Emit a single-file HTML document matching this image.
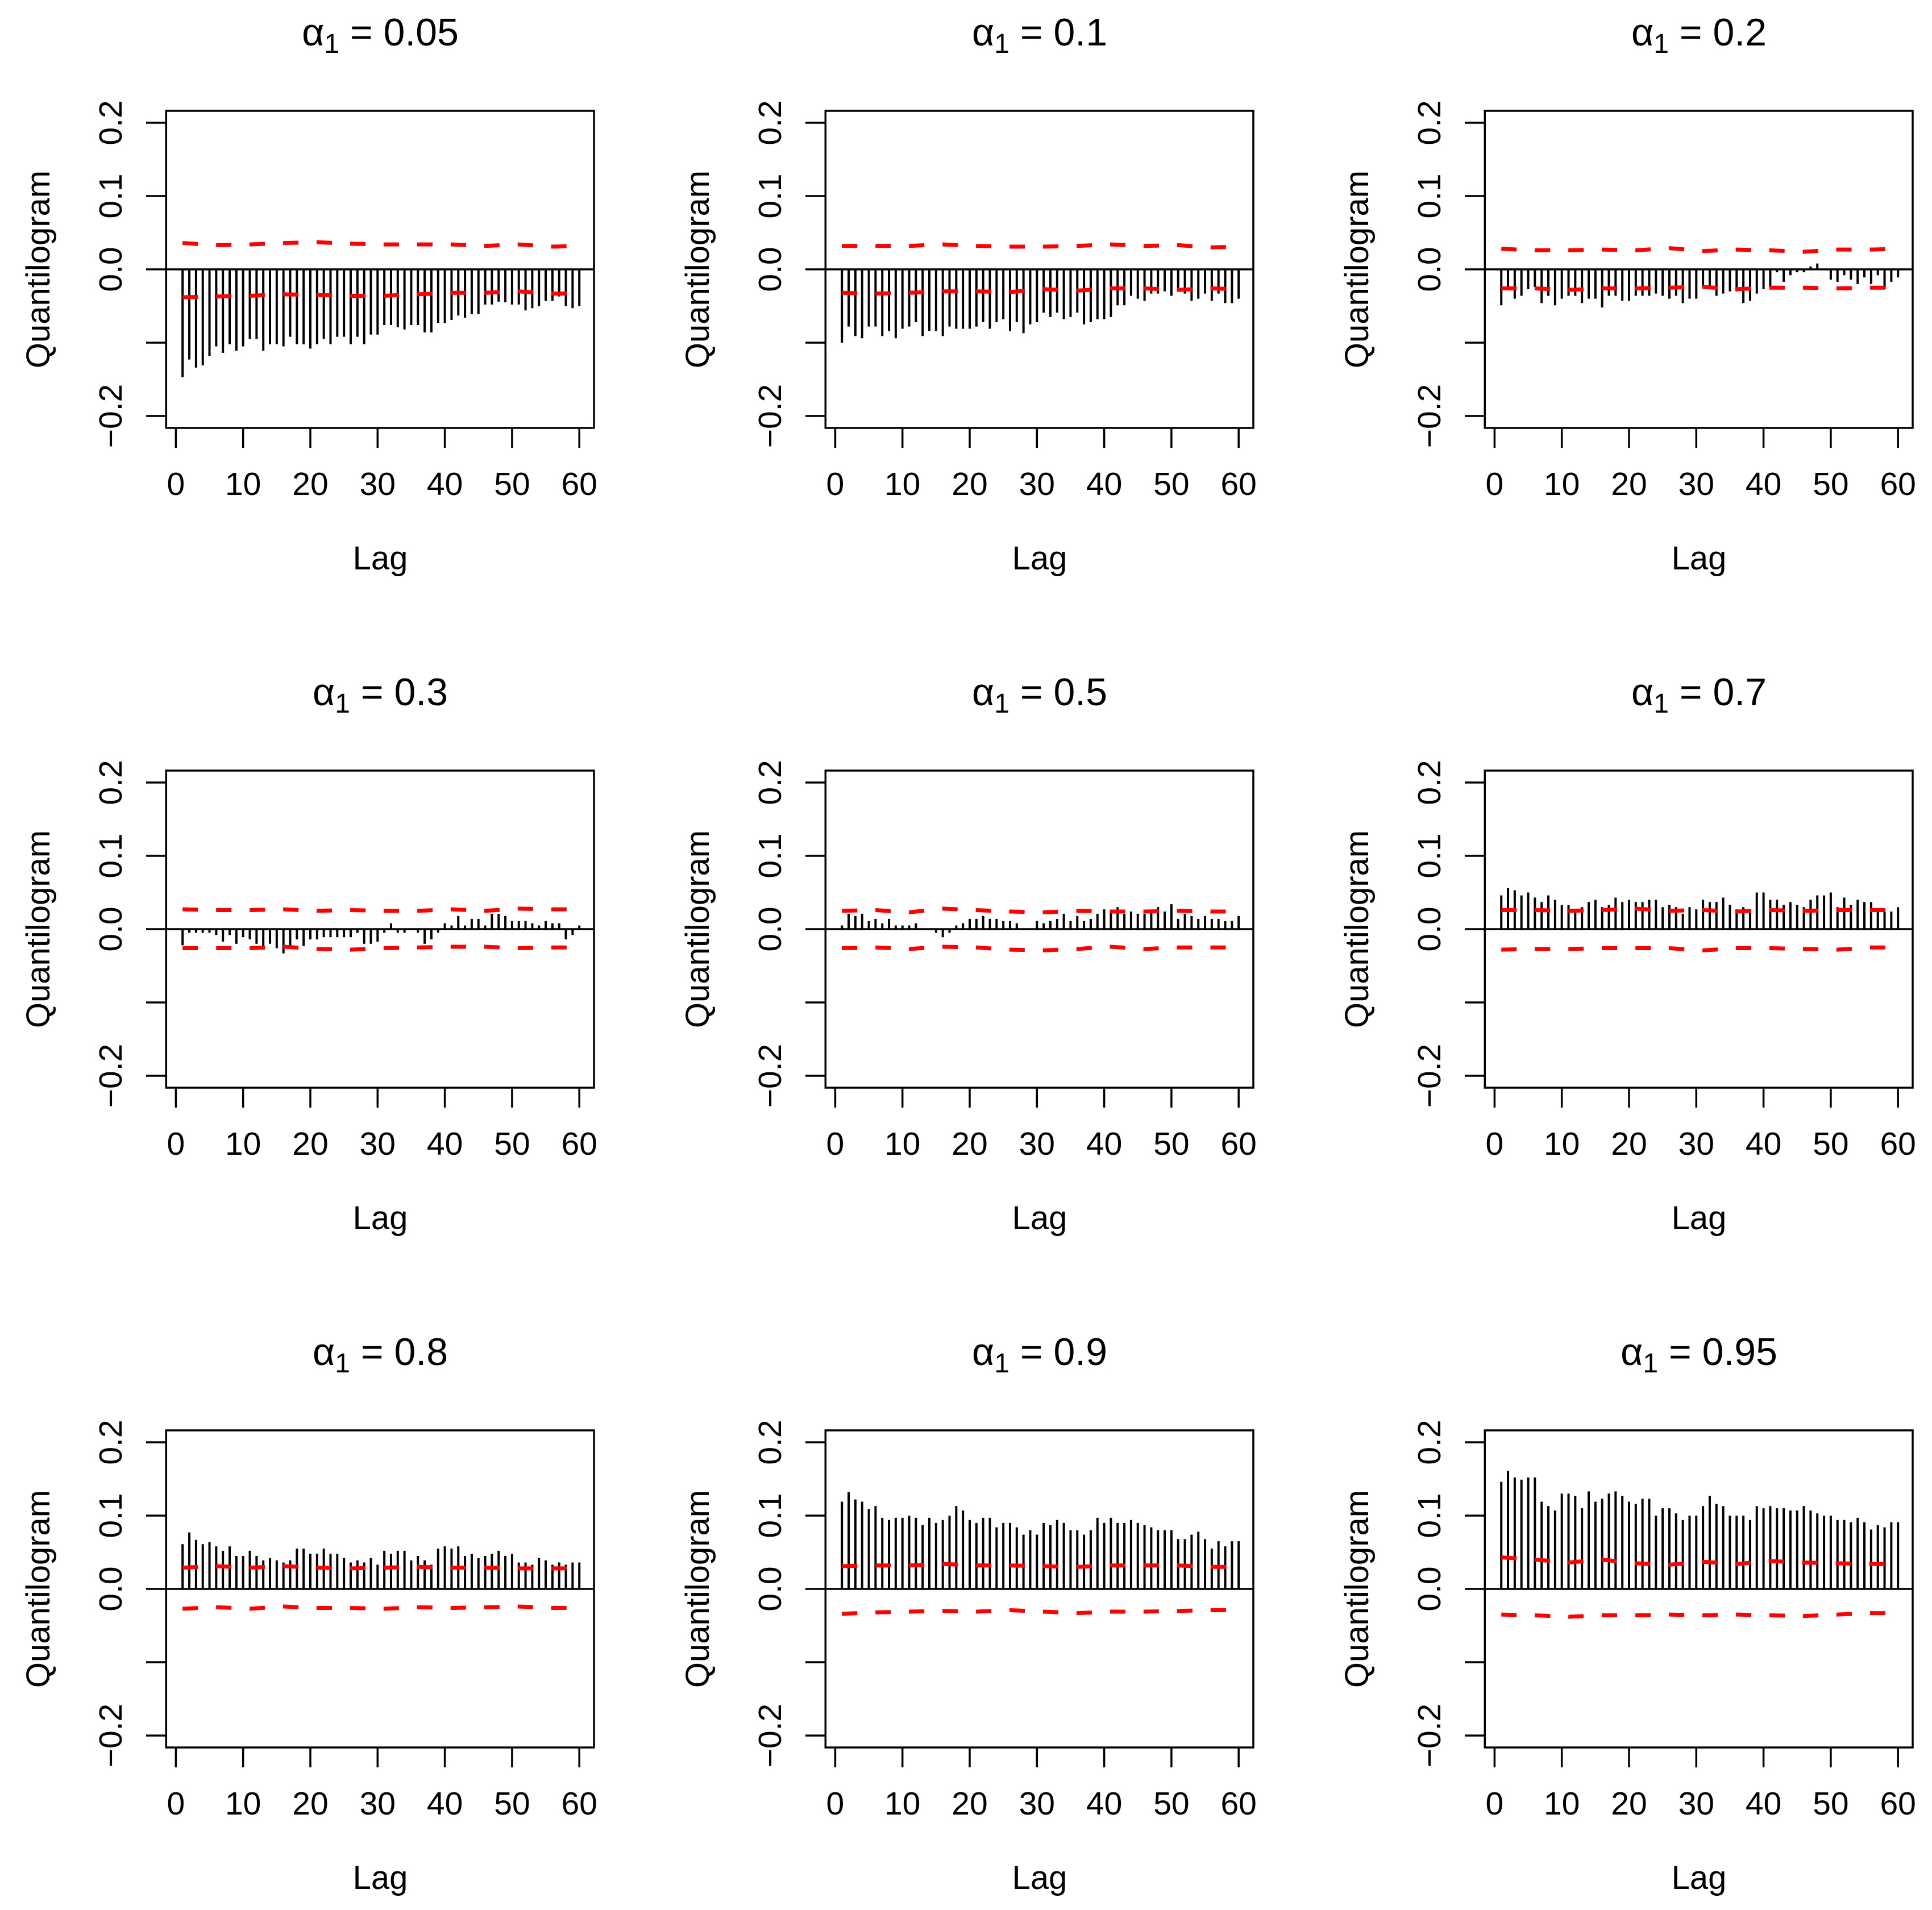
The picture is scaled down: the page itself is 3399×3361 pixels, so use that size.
<!DOCTYPE html>
<html><head><meta charset="utf-8"><title>Quantilogram panels</title>
<style>
html,body{margin:0;padding:0;background:#fff;}
svg{display:block;font-family:"Liberation Sans",Arial,sans-serif;}
</style></head>
<body>
<svg id="chart" width="3399" height="3361" viewBox="0 0 3399 3361" xmlns="http://www.w3.org/2000/svg"></svg>
<script>
const titles = ["0.05","0.1","0.2","0.3","0.5","0.7","0.8","0.9","0.95"];
const yTicks = [-0.2,-0.1,0,0.1,0.2];
const yTickLabels = ["\u22120.2","","0.0","0.1","0.2"];
const xTicks = [0,10,20,30,40,50,60];
const xTickLabels = ["0","10","20","30","40","50","60"];
const bandLags = [1,6,11,16,21,26,31,36,41,46,51,56,60];

const q1 = [-0.147,-0.123,-0.134,-0.131,-0.118,-0.105,-0.114,-0.102,-0.111,-0.105,-0.095,-0.095,-0.111,-0.102,-0.102,-0.105,-0.092,-0.102,-0.102,-0.108,-0.102,-0.095,-0.102,-0.092,-0.092,-0.102,-0.092,-0.102,-0.089,-0.089,-0.076,-0.076,-0.079,-0.082,-0.076,-0.076,-0.086,-0.086,-0.073,-0.073,-0.069,-0.063,-0.066,-0.061,-0.061,-0.048,-0.048,-0.044,-0.045,-0.048,-0.048,-0.056,-0.053,-0.050,-0.043,-0.043,-0.037,-0.050,-0.053,-0.050];
const q2 = [-0.100,-0.078,-0.091,-0.094,-0.078,-0.078,-0.091,-0.084,-0.094,-0.081,-0.078,-0.072,-0.091,-0.084,-0.084,-0.091,-0.078,-0.081,-0.081,-0.081,-0.078,-0.072,-0.081,-0.072,-0.068,-0.084,-0.072,-0.087,-0.075,-0.072,-0.059,-0.065,-0.059,-0.068,-0.065,-0.059,-0.075,-0.072,-0.068,-0.068,-0.065,-0.049,-0.049,-0.036,-0.040,-0.043,-0.033,-0.033,-0.030,-0.036,-0.030,-0.033,-0.043,-0.040,-0.033,-0.043,-0.033,-0.046,-0.046,-0.040];
const q3 = [-0.049,-0.024,-0.040,-0.036,-0.027,-0.024,-0.046,-0.036,-0.049,-0.040,-0.036,-0.036,-0.046,-0.040,-0.040,-0.052,-0.036,-0.036,-0.043,-0.043,-0.036,-0.036,-0.036,-0.033,-0.036,-0.040,-0.036,-0.046,-0.040,-0.040,-0.024,-0.027,-0.036,-0.033,-0.030,-0.030,-0.046,-0.043,-0.033,-0.027,-0.024,-0.004,-0.017,-0.008,-0.004,-0.004,0.004,0.008,0.000,-0.014,-0.017,-0.008,-0.014,-0.020,-0.011,-0.020,-0.008,-0.027,-0.017,-0.011];
const q4 = [-0.022,-0.005,-0.005,-0.005,-0.005,-0.008,-0.017,-0.008,-0.020,-0.011,-0.014,-0.020,-0.023,-0.020,-0.026,-0.033,-0.023,-0.014,-0.023,-0.014,-0.014,-0.011,-0.011,-0.011,-0.011,-0.011,-0.005,-0.020,-0.020,-0.017,-0.005,0.008,-0.005,-0.005,0.000,-0.005,-0.020,-0.014,-0.005,0.008,0.005,0.018,0.005,0.014,0.014,0.005,0.021,0.021,0.018,0.011,0.011,0.011,0.008,0.005,0.011,0.008,0.008,-0.014,-0.008,0.005];
const q5 = [0.005,0.021,0.018,0.021,0.011,0.014,0.008,0.014,0.005,0.005,0.005,0.008,0.000,0.000,-0.005,-0.011,-0.005,0.005,0.008,0.014,0.014,0.018,0.014,0.014,0.011,0.011,0.008,0.000,0.000,0.011,0.008,0.011,0.014,0.021,0.011,0.018,0.011,0.014,0.021,0.027,0.024,0.030,0.021,0.024,0.021,0.021,0.024,0.030,0.024,0.034,0.014,0.021,0.018,0.014,0.018,0.014,0.014,0.011,0.011,0.018];
const q6 = [0.046,0.056,0.053,0.046,0.050,0.043,0.037,0.046,0.040,0.033,0.033,0.027,0.030,0.037,0.040,0.030,0.033,0.043,0.037,0.040,0.037,0.037,0.040,0.040,0.030,0.033,0.030,0.021,0.030,0.027,0.040,0.037,0.037,0.043,0.033,0.027,0.030,0.027,0.050,0.050,0.040,0.040,0.033,0.037,0.033,0.030,0.040,0.046,0.046,0.050,0.030,0.043,0.033,0.040,0.037,0.037,0.027,0.024,0.024,0.030];
const q7 = [0.061,0.077,0.067,0.061,0.064,0.058,0.052,0.058,0.045,0.045,0.052,0.045,0.039,0.042,0.039,0.036,0.039,0.055,0.055,0.048,0.048,0.055,0.048,0.048,0.042,0.036,0.039,0.036,0.042,0.033,0.052,0.048,0.052,0.052,0.039,0.045,0.039,0.033,0.055,0.058,0.055,0.058,0.045,0.048,0.042,0.045,0.048,0.052,0.045,0.048,0.036,0.036,0.033,0.042,0.039,0.033,0.036,0.033,0.036,0.036];
const q8 = [0.119,0.132,0.122,0.119,0.109,0.113,0.097,0.094,0.097,0.097,0.100,0.097,0.087,0.097,0.090,0.094,0.100,0.113,0.107,0.094,0.090,0.097,0.097,0.084,0.090,0.090,0.084,0.074,0.080,0.074,0.090,0.087,0.094,0.090,0.080,0.080,0.074,0.080,0.097,0.090,0.097,0.090,0.090,0.094,0.090,0.087,0.084,0.080,0.080,0.080,0.068,0.068,0.074,0.078,0.068,0.055,0.065,0.058,0.065,0.065];
const q9 = [0.146,0.161,0.152,0.149,0.152,0.152,0.119,0.113,0.107,0.130,0.130,0.127,0.110,0.133,0.119,0.123,0.130,0.133,0.127,0.119,0.116,0.123,0.123,0.100,0.110,0.110,0.103,0.094,0.100,0.100,0.113,0.127,0.116,0.113,0.100,0.100,0.100,0.094,0.113,0.110,0.113,0.110,0.110,0.107,0.107,0.113,0.107,0.103,0.100,0.100,0.094,0.094,0.091,0.097,0.091,0.081,0.087,0.084,0.091,0.091];
const series = [q1,q2,q3,q4,q5,q6,q7,q8,q9];

const up1 = [0.036,0.033,0.034,0.036,0.037,0.035,0.034,0.034,0.034,0.032,0.034,0.031,0.032];
const lo1 = [-0.038,-0.037,-0.036,-0.034,-0.035,-0.036,-0.036,-0.034,-0.032,-0.032,-0.030,-0.033,-0.033];
const up2 = [0.032,0.032,0.032,0.034,0.032,0.031,0.031,0.032,0.034,0.032,0.033,0.030,0.031];
const lo2 = [-0.032,-0.033,-0.032,-0.030,-0.030,-0.031,-0.027,-0.029,-0.026,-0.026,-0.028,-0.026,-0.027];
const up3 = [0.028,0.026,0.026,0.027,0.026,0.029,0.025,0.027,0.026,0.024,0.027,0.027,0.028];
const lo3 = [-0.026,-0.026,-0.028,-0.026,-0.026,-0.025,-0.024,-0.027,-0.025,-0.025,-0.026,-0.025,-0.025];
const up4 = [0.027,0.026,0.026,0.027,0.025,0.026,0.025,0.025,0.027,0.025,0.028,0.027,0.027];
const lo4 = [-0.026,-0.026,-0.026,-0.024,-0.027,-0.028,-0.026,-0.025,-0.024,-0.024,-0.026,-0.025,-0.025];
const up5 = [0.025,0.026,0.023,0.028,0.026,0.024,0.023,0.025,0.024,0.024,0.025,0.024,0.024];
const lo5 = [-0.026,-0.025,-0.027,-0.024,-0.025,-0.028,-0.029,-0.027,-0.024,-0.027,-0.025,-0.025,-0.025];
const up6 = [0.026,0.026,0.025,0.026,0.028,0.025,0.026,0.024,0.026,0.025,0.026,0.026,0.026];
const lo6 = [-0.028,-0.027,-0.027,-0.026,-0.026,-0.026,-0.029,-0.026,-0.026,-0.027,-0.028,-0.025,-0.025];
const up7 = [0.029,0.031,0.029,0.031,0.029,0.028,0.029,0.030,0.029,0.029,0.028,0.028,0.028];
const lo7 = [-0.027,-0.025,-0.027,-0.024,-0.026,-0.026,-0.027,-0.025,-0.026,-0.025,-0.024,-0.026,-0.026];
const up8 = [0.031,0.032,0.032,0.034,0.032,0.032,0.031,0.030,0.032,0.032,0.032,0.030,0.030];
const lo8 = [-0.034,-0.032,-0.031,-0.030,-0.031,-0.029,-0.031,-0.033,-0.031,-0.031,-0.030,-0.029,-0.029];
const up9 = [0.043,0.040,0.036,0.040,0.035,0.033,0.037,0.034,0.038,0.036,0.035,0.034,0.034];
const lo9 = [-0.035,-0.036,-0.038,-0.036,-0.036,-0.035,-0.036,-0.035,-0.036,-0.037,-0.035,-0.033,-0.033];
const uppers = [up1,up2,up3,up4,up5,up6,up7,up8,up9];
const lowers = [lo1,lo2,lo3,lo4,lo5,lo6,lo7,lo8,lo9];

const NS = "http://www.w3.org/2000/svg";
const svg = document.getElementById("chart");
function mk(tag, attrs, parent){
  const e = document.createElementNS(NS, tag);
  for (const k in attrs) e.setAttribute(k, attrs[k]);
  (parent || svg).appendChild(e);
  return e;
}
const BOX_L = 292.3, BOX_R = 1045, BOX_T = 195, BOX_B = 753;
const X0 = 309.4, XPER = 11.83, ZERO_Y = 474, YPER = 1290;

for (let p = 0; p < 9; p++) {
  const c = p % 3, r = Math.floor(p / 3);
  const ox = 1160 * c, oy = 1161 * r;
  const xs = k => ox + X0 + XPER * k;
  const ys = v => oy + ZERO_Y - v * YPER;
  const g = mk("g", {});
  
  

  const t = mk("text", {x: ox + 669, y: oy + 80, "font-size": 68, "text-anchor": "middle", fill: "#000"}, g);
  
  
  const a = mk("tspan", {}, t); a.textContent = "\u03B1";
  const s = mk("tspan", {"font-size": 48, dy: 13}, t); s.textContent = "1";
  const rest = mk("tspan", {dy: -13}, t); rest.textContent = " = " + titles[p];

  const bars = series[p];
  for (let i = 0; i < bars.length; i++) {
    const k = i + 1;
    const b = mk("line", {x1: xs(k), x2: xs(k), y1: ys(0), y2: ys(bars[i]), stroke: "#000", "stroke-width": 4}, g);
    
    
  }

  const z = mk("line", {x1: ox + BOX_L, x2: ox + BOX_R, y1: ys(0), y2: ys(0), stroke: "#000", "stroke-width": 3.5}, g);
  
  

  [[uppers[p], 'upper-band'], [lowers[p], 'lower-band']].forEach(([arr, nm]) => {
    const pts = arr.map((v, i) => xs(bandLags[i]) + "," + ys(v)).join(" ");
    const pl = mk("polyline", {points: pts, fill: "none", stroke: "#ff0000", "stroke-width": 7, "stroke-dasharray": "27 32"}, g);
    
    
  });

  const bx = mk("rect", {x: ox + BOX_L, y: oy + BOX_T, width: BOX_R - BOX_L, height: BOX_B - BOX_T, fill: "none", stroke: "#000", "stroke-width": 3.5}, g);
  
  

  yTicks.forEach((v, i) => {
    const tl = mk("line", {x1: ox + 257, x2: ox + BOX_L, y1: ys(v), y2: ys(v), stroke: "#000", "stroke-width": 3.5}, g);
    
    
    if (yTickLabels[i]) {
      const lx = ox + 214, ly = ys(v);
      const lb = mk("text", {x: lx, y: ly, "font-size": 57, "text-anchor": "middle", transform: "rotate(-90 " + lx + " " + ly + ")", fill: "#000"}, g);
      
      
      lb.textContent = yTickLabels[i];
    }
  });

  xTicks.forEach((k, i) => {
    const tl = mk("line", {x1: xs(k), x2: xs(k), y1: oy + BOX_B, y2: oy + 788, stroke: "#000", "stroke-width": 3.5}, g);
    
    
    const lb = mk("text", {x: xs(k), y: oy + 871, "font-size": 57, "text-anchor": "middle", fill: "#000"}, g);
    
    
    lb.textContent = xTickLabels[i];
  });

  const xl = mk("text", {x: ox + 669, y: oy + 1002, "font-size": 58, "text-anchor": "middle", fill: "#000"}, g);
  
  
  xl.textContent = "Lag";

  const qx = ox + 87, qy = oy + 474;
  const yl = mk("text", {x: qx, y: qy, "font-size": 58, "text-anchor": "middle", transform: "rotate(-90 " + qx + " " + qy + ")", fill: "#000"}, g);
  
  
  yl.textContent = "Quantilogram";
}
</script>
</body></html>
